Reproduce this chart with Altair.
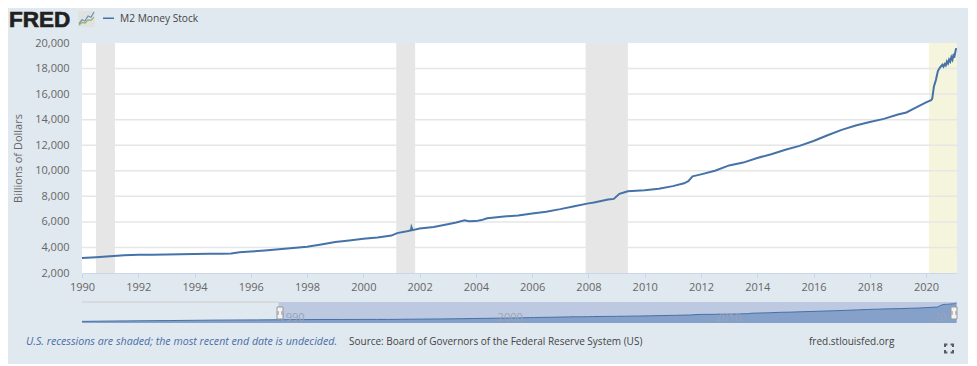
import altair as alt
import pandas as pd

# --- data ---
years = [1990.0, 1990.5, 1991.0, 1991.5, 1992.0, 1992.5, 1993.0, 1993.5, 1994.0, 1994.5, 1995.0, 1995.3,
         1995.6, 1996.0, 1996.5, 1997.0, 1997.5, 1998.0, 1998.5, 1999.0, 1999.5, 2000.0, 2000.5, 2001.0,
         2001.2, 2001.5, 2001.69, 2001.71, 2001.75, 2002.0, 2002.5, 2003.0, 2003.3, 2003.6, 2003.75, 2004.0,
         2004.2, 2004.4, 2005.0, 2005.5, 2006.0, 2006.5, 2007.0, 2007.5, 2008.0, 2008.2, 2008.7, 2008.9,
         2009.1, 2009.4, 2010.0, 2010.5, 2011.0, 2011.4, 2011.55, 2011.7, 2012.0, 2012.5, 2013.0, 2013.5,
         2014.0, 2014.5, 2015.0, 2015.5, 2016.0, 2016.5, 2017.0, 2017.5, 2018.0, 2018.5, 2019.0, 2019.3,
         2019.6, 2020.0, 2020.18, 2020.22, 2020.28, 2020.35, 2020.42, 2020.5, 2020.58, 2020.62, 2020.66,
         2020.7, 2020.74, 2020.78, 2020.82, 2020.86, 2020.9, 2020.94, 2020.98, 2021.0, 2021.04, 2021.07]
values = [3170, 3230, 3310, 3380, 3420, 3420, 3440, 3460, 3490, 3500, 3500, 3520,
          3620, 3680, 3760, 3860, 3950, 4060, 4230, 4420, 4540, 4680, 4780, 4930,
          5120, 5240, 5340, 5580, 5350, 5480, 5600, 5820, 5960, 6120, 6050, 6060,
          6140, 6280, 6430, 6500, 6660, 6800, 7000, 7230, 7450, 7520, 7760, 7800,
          8200, 8400, 8470, 8600, 8800, 9020, 9180, 9560, 9720, 10000, 10420, 10640,
          11000, 11300, 11640, 11950, 12330, 12780, 13200, 13540, 13820, 14060, 14400, 14560,
          14900, 15350, 15520, 15640, 16600, 17100, 17800, 18100, 18300, 18150, 18350,
          18250, 18550, 18400, 18700, 18550, 18900, 18700, 19150, 18850, 19300, 19600]
early_years = [1981.0, 1983.0, 1985.0, 1987.0, 1989.0]
early_values = [1600, 2050, 2400, 2800, 3050]

recession_start = [1990.5, 2001.17, 2007.9]
recession_end = [1991.17, 2001.84, 2009.4]
current_start = [2020.1]
current_end = [2021.1]

y_ticks = [2000, 4000, 6000, 8000, 10000, 12000, 14000, 16000, 18000, 20000]
x_ticks = list(range(1990, 2021, 2))
nav_years = [1990, 2000, 2010, 2020]
nav_labels = ["1990", "2000", "2010", "20"]

icon_x = [0, 1, 2, 3, 4, 5]
icon_blue = [1, 4, 3, 7, 6, 10]
icon_green = [0, 2, 1.5, 4, 3.5, 6]

X0, X1 = 1990, 2021.1
BLUE = "#4572a7"
FONT = "Open Sans"

series = pd.DataFrame({"year": years, "value": values})
full = pd.DataFrame({"year": early_years + years, "value": early_values + values})
blank = alt.Data(values=[{}])

x_scale = alt.Scale(domain=[X0, X1], nice=False, zero=False)
x_axis = alt.Axis(values=x_ticks, format="d", grid=False, domain=True, domainColor="#ccd6eb",
                  tickColor="#ccd6eb", tickSize=5, labelColor="#666666", labelFont=FONT,
                  labelFontSize=11, labelPadding=3, labelOverlap=False, labelFlush=False)
y_axis = alt.Axis(values=y_ticks, format=",d", grid=False, domain=False, ticks=False,
                  labelColor="#666666", labelFont=FONT, labelFontSize=11, labelPadding=13,
                  labelOverlap=False, titleFont=FONT, titleFontSize=11, titleFontWeight="normal",
                  titleColor="#666666", titlePadding=11)
y_main = alt.Y("value:Q", scale=alt.Scale(domain=[2000, 20000], nice=False, zero=False),
               title="Billions of Dollars", axis=y_axis)

line = alt.Chart(series).mark_line(color=BLUE, strokeWidth=2).encode(
    x=alt.X("year:Q", scale=x_scale, title=None, axis=x_axis), y=y_main)
shade = alt.Chart(pd.DataFrame({"a": recession_start, "b": recession_end})).mark_rect(color="#e6e6e6").encode(
    x=alt.X("a:Q", scale=x_scale, title=None, axis=x_axis), x2="b:Q")
covid = alt.Chart(pd.DataFrame({"a": current_start, "b": current_end})).mark_rect(color="#f5f4dc").encode(
    x=alt.X("a:Q", scale=x_scale, title=None, axis=x_axis), x2="b:Q")
grid = alt.Chart(pd.DataFrame({"value": y_ticks[1:-1]})).mark_rule(color="#e6e6e6", strokeWidth=1.5).encode(
    y=y_main)
main = alt.layer(shade, covid, grid, line)

# navigator strip
nx = alt.Scale(domain=[1981, X1], nice=False, zero=False, range=[0, 875])
ny = alt.Scale(domain=[0, 20500], nice=False, zero=False, range=[280, 259])
nxe = alt.X("year:Q", scale=nx, axis=None)
nye = alt.Y("value:Q", scale=ny, axis=None)
band = alt.Chart(pd.DataFrame({"year": [1990], "e": [X1], "value": [0], "t": [20500]})).mark_rect(
    color="#bcc9e1").encode(x=nxe, x2="e:Q", y=nye, y2="t:Q")
top = alt.Chart(pd.DataFrame({"year": [1981], "e": [1990], "value": [20500]})).mark_rule(
    color="#cccccc", strokeWidth=1).encode(x=nxe, x2="e:Q", y=nye)
nav_area = alt.Chart(full).mark_area(color="#85a0c9", opacity=1, line=alt.LineConfig(color=BLUE, strokeWidth=1)).encode(
    x=nxe, y=nye)
nav_text = alt.Chart(pd.DataFrame({"year": nav_years, "label": nav_labels, "value": [5000] * 4})).mark_text(
    align="left", dx=1, font=FONT, fontSize=11, color="#9aa5b8").encode(x=nxe, y=nye, text="label:N")
nav = alt.layer(band, top, nav_area, nav_text)

def text(s, x, y, **kw):
    opts = dict(align="left", baseline="middle", font=FONT, fontSize=11, color="#444444")
    opts.update(kw)
    return alt.Chart(blank).mark_text(**opts).encode(x=alt.value(x), y=alt.value(y), text=alt.value(s))

def box(x, x2, y, y2, **kw):
    return alt.Chart(blank).mark_rect(**kw).encode(x=alt.value(x), x2=alt.value(x2), y=alt.value(y), y2=alt.value(y2))

# small logo chart
ix = alt.Scale(domain=[0, 5], range=[-3, 12], nice=False, zero=False)
iy = alt.Scale(domain=[0, 10], range=[-18, -31], nice=False, zero=False)
icon_df = pd.DataFrame({"i": icon_x * 2, "v": icon_blue + icon_green,
                        "s": ["b"] * 6 + ["g"] * 6})
icon = alt.Chart(icon_df).mark_line(strokeWidth=1.2).encode(
    x=alt.X("i:Q", scale=ix, axis=None), y=alt.Y("v:Q", scale=iy, axis=None),
    color=alt.Color("s:N", scale=alt.Scale(domain=["b", "g"], range=["#6f8fb5", "#8fb06a"]), legend=None))

decor = alt.layer(
    text("FRED", -73, -23.5, font="Liberation Sans", fontWeight="bold", fontSize=22.5, color="#231f20",
         stroke="#231f20", strokeWidth=0.7),
    text("M2 Money Stock", 38, -24, fontSize=10.2, color="#444444"),
    box(21, 32, -25.5, -24, color=BLUE),
    text("U.S. recessions are shaded; the most recent end date is undecided.", -56, 299,
         fontStyle="italic", color="#4a6da7", fontSize=10.65),
    text("Source: Board of Governors of the Federal Reserve System (US)", 267, 299, fontSize=10),
    text("fred.stlouisfed.org", 727, 299, fontSize=10),
    # navigator handles
    box(195, 201, 264, 276, color="#f4f4f4", stroke="#999999", strokeWidth=1),
    box(869, 875, 264, 276, color="#f4f4f4", stroke="#999999", strokeWidth=1),
    alt.Chart(blank).mark_point(shape="M-1,-1V1M1,-1V1", size=14, color="#777777", filled=False, strokeWidth=1).encode(
        x=alt.value(198), y=alt.value(270)),
    alt.Chart(blank).mark_point(shape="M-1,-1V1M1,-1V1", size=14, color="#777777", filled=False, strokeWidth=1).encode(
        x=alt.value(872), y=alt.value(270)),
    # fullscreen glyph
    alt.Chart(blank).mark_point(shape="M-1,-.4V-1H-.4M.4,-1H1V-.4M1,.4V1H.4M-.4,1H-1V.4", size=64, color="#222222",
                                filled=False, strokeWidth=2).encode(x=alt.value(867), y=alt.value(305.5)),
)

plot_bg = alt.Chart(blank).mark_rect(color="#ffffff").encode(
    x=alt.value(0), x2=alt.value(875), y=alt.value(0), y2=alt.value(230))
icon_bg = box(-4, 13, -32, -16, color="#dfe2df")
chart = (
    alt.layer(plot_bg, icon_bg, main, nav, icon, decor)
    .resolve_scale(x="independent", y="independent", color="independent")
    .properties(
        width=875, height=230,
        background="#e1e9f0",
        padding={"left": 74, "top": 35, "right": 11, "bottom": 91},
        autosize=alt.AutoSizeParams(type="none"),
    )
    .configure_view(stroke=None)
)

chart.save("out.html", embed_options={"renderer": "svg", "actions": False})
